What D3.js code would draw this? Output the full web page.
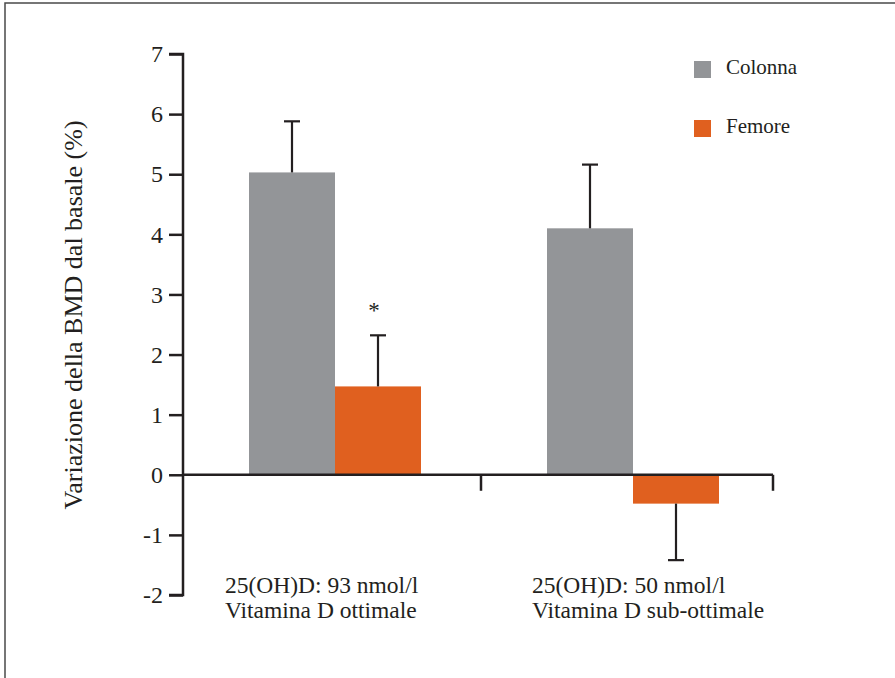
<!DOCTYPE html>
<html>
<head>
<meta charset="utf-8">
<script src="https://cdn.jsdelivr.net/npm/d3@7"></script>
<style>
  html, body { margin: 0; padding: 0; background: #fff; }
  svg { display: block; }
  text { font-family: "Liberation Serif", "Times New Roman", serif; fill: #231f20; }
</style>
</head>
<body>
<svg id="chart" width="895" height="678"></svg>
<script>
// Groups (two text lines each), series and values
const groups = ["g93", "g50"];
const groupLines = [
  ["25(OH)D: 93 nmol/l", "Vitamina D ottimale"],
  ["25(OH)D: 50 nmol/l", "Vitamina D sub-ottimale"]
];
const series = ["Colonna", "Femore"];
const colonnaValues = [5.03, 4.10];
const colonnaErrors = [0.85, 1.06];
const femoreValues = [1.47, -0.48];
const femoreErrors = [0.85, 0.94];
const colonnaMarks = ["", ""];
const femoreMarks = ["*", ""];
const yTicks = [-2, -1, 0, 1, 2, 3, 4, 5, 6, 7];

const colors = { Colonna: "#939598", Femore: "#e0601f" };
const ink = "#231f20";

const svg = d3.select("#chart");

// outer frame
svg.append("rect")
  .attr("x", 5).attr("y", 3)
  .attr("width", 920).attr("height", 700)
  .attr("fill", "none").attr("stroke", "#4a4a4a").attr("stroke-width", 1.5);

const y = d3.scaleLinear().domain([-2, 7]).range([595, 54]);
const axisLeftX = 183, axisRightX = 773;
const x0 = d3.scaleBand().domain(groups).range([axisLeftX, 779]).padding(0);
const groupW = 172;
const x1 = d3.scaleBand().domain(series).range([66, 66 + groupW]);

const rows = [];
groups.forEach((g, i) => {
  rows.push({ g, s: "Colonna", v: colonnaValues[i], e: colonnaErrors[i], mark: colonnaMarks[i] });
  rows.push({ g, s: "Femore", v: femoreValues[i], e: femoreErrors[i], mark: femoreMarks[i] });
});

// bars
svg.append("g").selectAll("rect")
  .data(rows).join("rect")
  .attr("x", d => x0(d.g) + x1(d.s))
  .attr("width", x1.bandwidth())
  .attr("y", d => y(Math.max(0, d.v)))
  .attr("height", d => Math.abs(y(d.v) - y(0)))
  .attr("fill", d => colors[d.s]);

// error bars (one-sided, away from zero)
const eb = svg.append("g").attr("stroke", ink).attr("stroke-width", 2.2);
rows.forEach(d => {
  const cx = x0(d.g) + x1(d.s) + x1.bandwidth() / 2;
  const end = d.v >= 0 ? d.v + d.e : d.v - d.e;
  eb.append("line").attr("x1", cx).attr("x2", cx).attr("y1", y(d.v)).attr("y2", y(end));
  eb.append("line").attr("x1", cx - 8).attr("x2", cx + 8).attr("y1", y(end)).attr("y2", y(end));
  if (d.mark) {
    svg.append("text")
      .attr("x", cx - 4).attr("y", y(end) - 17)
      .attr("text-anchor", "middle")
      .style("font-size", "23px")
      .text(d.mark);
  }
});

// y axis
const yAxis = d3.axisLeft(y).tickValues(yTicks).tickSize(14).tickPadding(6).tickFormat(d => String(d));
const gy = svg.append("g").attr("transform", `translate(${axisLeftX},0)`).call(yAxis);
gy.select(".domain").attr("stroke", ink).attr("stroke-width", 2.5).attr("d", `M-14,${y(7)}H0V${y(-2)}H-14`);
gy.selectAll(".tick line").attr("stroke", ink).attr("stroke-width", 2.5);
gy.selectAll(".tick text").style("font-size", "24px").attr("fill", ink)
  .style("font-family", '"Liberation Serif", serif');

// x axis at zero, ticks at group boundaries pointing down
const xb = svg.append("g").attr("stroke", ink).attr("stroke-width", 2.5);
xb.append("line").attr("x1", axisLeftX).attr("x2", axisRightX).attr("y1", y(0)).attr("y2", y(0));
groups.forEach(g => {
  const bx = Math.min(x0(g) + x0.bandwidth(), axisRightX);
  xb.append("line").attr("x1", bx).attr("x2", bx).attr("y1", y(0)).attr("y2", y(0) + 16);
});

// group labels
groups.forEach((g, i) => {
  const lx = x0(g) + x1("Colonna") - 24 + i * 9;
  const t = svg.append("text").attr("y", 593).style("font-size", "23.5px");
  groupLines[i].forEach((line, k) => {
    t.append("tspan").attr("x", lx).attr("dy", k === 0 ? 0 : 25).text(line);
  });
});

// y axis title
svg.append("text")
  .attr("transform", "translate(82,315) rotate(-90)")
  .attr("text-anchor", "middle")
  .style("font-size", "26px")
  .text("Variazione della BMD dal basale (%)");

// legend
const lg = svg.append("g").attr("transform", "translate(694,61)");
series.forEach((s, i) => {
  const row = lg.append("g").attr("transform", `translate(0,${i * 59})`);
  row.append("rect").attr("width", 17).attr("height", 17).attr("fill", colors[s]);
  row.append("text").attr("x", 32).attr("y", 13).style("font-size", "21px").text(s);
});
</script>
</body>
</html>
